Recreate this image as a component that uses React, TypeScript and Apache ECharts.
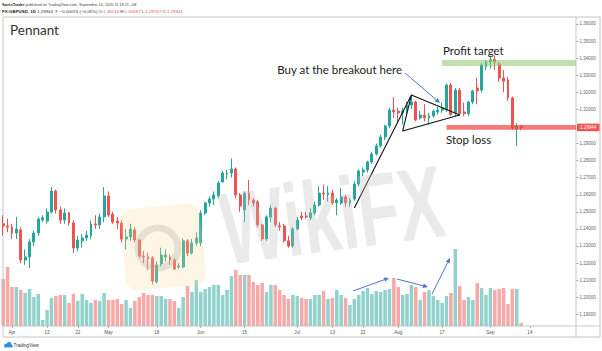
import React, { useEffect, useRef } from 'react';
import * as echarts from 'echarts';

// ---------- categories (trading days) ----------
function weekdays(start: string, n: number): string[] {
  const out: string[] = [];
  const d = new Date(start + 'T00:00:00Z');
  while (out.length < n) {
    const wd = d.getUTCDay();
    if (wd !== 0 && wd !== 6) out.push(d.toISOString().slice(0, 10));
    d.setUTCDate(d.getUTCDate() + 1);
  }
  return out;
}
const dates: string[] = weekdays('2020-03-30', 131);

const tickLabels: [string, string][] = [
  ['2020-04-01', 'Apr'], ['2020-04-13', '13'], ['2020-04-22', '22'], ['2020-05-01', 'May'],
  ['2020-05-18', '18'], ['2020-06-01', 'Jun'], ['2020-06-15', '15'], ['2020-07-01', 'Jul'],
  ['2020-07-13', '13'], ['2020-07-22', '22'], ['2020-08-03', 'Aug'], ['2020-08-17', '17'],
  ['2020-09-01', 'Sep'], ['2020-09-14', '14'],
];

const priceTicks: number[] = [
  1.19, 1.2, 1.21, 1.22, 1.23, 1.24, 1.25, 1.26, 1.27, 1.28, 1.29,
  1.31, 1.32, 1.33, 1.34, 1.35, 1.36,
];

// [open, close, low, high]
const candles: number[][] = [
  [1.2430, 1.2417, 1.2360, 1.2480], [1.2417, 1.2411, 1.2380, 1.2460], [1.2411, 1.2376, 1.2340, 1.2430],
  [1.2376, 1.2400, 1.2340, 1.2470], [1.2394, 1.2218, 1.2200, 1.2410], [1.2218, 1.2236, 1.2190, 1.2280],
  [1.2236, 1.2324, 1.2170, 1.2340], [1.2324, 1.2376, 1.2300, 1.2390], [1.2376, 1.2458, 1.2360, 1.2470],
  [1.2452, 1.2466, 1.2440, 1.2480], [1.2446, 1.2499, 1.2430, 1.2520], [1.2499, 1.2622, 1.2490, 1.2645],
  [1.2622, 1.2511, 1.2490, 1.2630], [1.2511, 1.2452, 1.2430, 1.2530], [1.2452, 1.2493, 1.2430, 1.2520],
  [1.2493, 1.2435, 1.2420, 1.2500], [1.2435, 1.2288, 1.2260, 1.2450], [1.2288, 1.2335, 1.2270, 1.2360],
  [1.2330, 1.2347, 1.2290, 1.2370], [1.2347, 1.2364, 1.2330, 1.2390], [1.2359, 1.2429, 1.2340, 1.2450],
  [1.2429, 1.2423, 1.2400, 1.2480], [1.2423, 1.2470, 1.2400, 1.2490], [1.2470, 1.2593, 1.2440, 1.2645],
  [1.2593, 1.2481, 1.2470, 1.2620], [1.2487, 1.2440, 1.2430, 1.2500], [1.2446, 1.2435, 1.2400, 1.2470],
  [1.2435, 1.2341, 1.2320, 1.2450], [1.2341, 1.2353, 1.2280, 1.2400], [1.2353, 1.2400, 1.2330, 1.2430],
  [1.2394, 1.2335, 1.2320, 1.2410], [1.2335, 1.2241, 1.2230, 1.2340], [1.2241, 1.2236, 1.2200, 1.2270],
  [1.2236, 1.2224, 1.2160, 1.2260], [1.2230, 1.2095, 1.2075, 1.2240], [1.2090, 1.2189, 1.2080, 1.2210],
  [1.2195, 1.2247, 1.2180, 1.2290], [1.2236, 1.2247, 1.2210, 1.2280], [1.2236, 1.2218, 1.2190, 1.2250],
  [1.2218, 1.2165, 1.2160, 1.2230], [1.2177, 1.2183, 1.2165, 1.2200], [1.2177, 1.2330, 1.2170, 1.2345],
  [1.2330, 1.2259, 1.2240, 1.2340], [1.2259, 1.2318, 1.2250, 1.2340], [1.2318, 1.2347, 1.2300, 1.2380],
  [1.2318, 1.2493, 1.2300, 1.2510], [1.2493, 1.2552, 1.2480, 1.2560], [1.2552, 1.2575, 1.2530, 1.2590],
  [1.2575, 1.2599, 1.2540, 1.2620], [1.2593, 1.2669, 1.2580, 1.2680], [1.2675, 1.2727, 1.2670, 1.2740],
  [1.2721, 1.2727, 1.2690, 1.2745], [1.2727, 1.2751, 1.2700, 1.2813], [1.2751, 1.2599, 1.2580, 1.2760],
  [1.2599, 1.2534, 1.2500, 1.2610], [1.2511, 1.2610, 1.2440, 1.2620], [1.2610, 1.2569, 1.2540, 1.2686],
  [1.2569, 1.2552, 1.2530, 1.2580], [1.2558, 1.2423, 1.2410, 1.2570], [1.2423, 1.2341, 1.2330, 1.2430],
  [1.2341, 1.2470, 1.2330, 1.2480], [1.2470, 1.2522, 1.2440, 1.2540], [1.2522, 1.2423, 1.2410, 1.2530],
  [1.2417, 1.2411, 1.2390, 1.2440], [1.2417, 1.2330, 1.2320, 1.2430], [1.2330, 1.2300, 1.2290, 1.2360],
  [1.2300, 1.2400, 1.2290, 1.2410], [1.2400, 1.2452, 1.2390, 1.2470], [1.2475, 1.2464, 1.2450, 1.2500],
  [1.2476, 1.2470, 1.2460, 1.2500], [1.2464, 1.2493, 1.2450, 1.2520], [1.2493, 1.2540, 1.2480, 1.2560],
  [1.2540, 1.2610, 1.2530, 1.2650], [1.2610, 1.2604, 1.2570, 1.2660], [1.2600, 1.2610, 1.2560, 1.2650],
  [1.2610, 1.2552, 1.2540, 1.2630], [1.2552, 1.2569, 1.2480, 1.2580], [1.2552, 1.2587, 1.2540, 1.2640],
  [1.2587, 1.2552, 1.2530, 1.2600], [1.2552, 1.2569, 1.2530, 1.2580], [1.2575, 1.2663, 1.2565, 1.2680],
  [1.2663, 1.2739, 1.2650, 1.2750], [1.2733, 1.2745, 1.2710, 1.2760], [1.2745, 1.2792, 1.2730, 1.2800],
  [1.2792, 1.2839, 1.2780, 1.2850], [1.2839, 1.2886, 1.2830, 1.2900], [1.2886, 1.2938, 1.2875, 1.2950],
  [1.2938, 1.3003, 1.2920, 1.3010], [1.3003, 1.3096, 1.2990, 1.3110], [1.3096, 1.3085, 1.3050, 1.3170],
  [1.3090, 1.3079, 1.3020, 1.3110], [1.3079, 1.3090, 1.3010, 1.3110], [1.3085, 1.3126, 1.3070, 1.3145],
  [1.3126, 1.3143, 1.3100, 1.3185], [1.3143, 1.3038, 1.3030, 1.3150], [1.3050, 1.3067, 1.3040, 1.3090],
  [1.3067, 1.3050, 1.3030, 1.3130], [1.3050, 1.3062, 1.3010, 1.3080], [1.3062, 1.3090, 1.3050, 1.3100],
  [1.3085, 1.3096, 1.3070, 1.3115], [1.3096, 1.3110, 1.3080, 1.3140], [1.3096, 1.3243, 1.3085, 1.3250],
  [1.3243, 1.3070, 1.3060, 1.3255], [1.3080, 1.3213, 1.3060, 1.3225], [1.3213, 1.3075, 1.3060, 1.3225],
  [1.3085, 1.3075, 1.3060, 1.3140], [1.3075, 1.3143, 1.3060, 1.3150], [1.3143, 1.3208, 1.3130, 1.3215],
  [1.3225, 1.3208, 1.3130, 1.3285], [1.3213, 1.3360, 1.3200, 1.3370], [1.3350, 1.3378, 1.3330, 1.3390],
  [1.3378, 1.3390, 1.3340, 1.3412], [1.3392, 1.3378, 1.3330, 1.3415], [1.3365, 1.3284, 1.3260, 1.3375],
  [1.3284, 1.3265, 1.3200, 1.3330], [1.3272, 1.3167, 1.3150, 1.3290], [1.3167, 1.2991, 1.2980, 1.3175],
  [1.2985, 1.3002, 1.2886, 1.3020], [1.30018, 1.29944, 1.29767, 1.30087],
];

// volume (thousands)
const volumes: number[] = [
  47, 59, 39, 39, 36, 33, 37, 29, 32, 6, 16, 28, 30, 31, 31, 23, 32, 25, 32, 26,
  23, 26, 25, 33, 26, 26, 27, 22, 26, 18, 25, 29, 33, 31, 31, 30, 30, 27, 27, 25,
  18, 29, 40, 34, 46, 34, 37, 39, 41, 41, 31, 36, 50, 56, 51, 51, 51, 44, 41, 43,
  34, 41, 41, 36, 31, 27, 31, 30, 28, 27, 27, 31, 31, 35, 27, 28, 36, 31, 28, 21,
  27, 31, 35, 38, 32, 35, 34, 36, 37, 48, 39, 31, 32, 41, 39, 26, 34, 36, 30, 26,
  23, 30, 33, 77, 40, 26, 29, 26, 43, 38, 31, 38, 36, 37, 38, 22, 37, 37, 3,
];

const lastPrice = 1.29944;
const profitBand: [number, number] = [1.3389, 1.3354];
const stopBand: [number, number] = [1.3008, 1.2981];
// pennant drawing: pole + triangle, in [date, price]
const pennantPoints: [string, number][] = [
  [dates[80], 1.2522], [dates[93], 1.3184], [dates[104], 1.3067], [dates[91], 1.2973], [dates[93], 1.3184],
];

const UP = '#26a69a';
const DOWN = '#ef5350';
const UP_VOL = '#92d2cc';
const DOWN_VOL = '#f7a9a7';
const SMALL_FONT = 'Liberation Sans, Arial, sans-serif';
const NOTE_FONT = 'Lato, "Open Sans", sans-serif';

function arrow(x1: number, y1: number, x2: number, y2: number, color: string) {
  const ang = Math.atan2(y2 - y1, x2 - x1);
  const L = 5, W = 2.3;
  const bx = x2 - L * Math.cos(ang), by = y2 - L * Math.sin(ang);
  return [
    { type: 'line', z: 30, shape: { x1, y1, x2: bx, y2: by }, style: { stroke: color, lineWidth: 1 } },
    {
      type: 'polygon', z: 30,
      shape: { points: [[x2, y2], [bx - W * Math.sin(ang), by + W * Math.cos(ang)], [bx + W * Math.sin(ang), by - W * Math.cos(ang)]] },
      style: { fill: color },
    },
  ];
}

export default function App() {
  const ref = useRef<HTMLDivElement>(null);
  useEffect(() => {
    if (!ref.current) return;
    const chart = echarts.init(ref.current, undefined, { renderer: 'svg' });
    const labelMap = new Map(tickLabels);

    const option: any = {
      animation: false,
      backgroundColor: '#ffffff',
      grid: [
        { left: 1, width: 575, top: 6.92, height: 324.45 },
        { left: 1, width: 575, top: 226, height: 100 },
      ],
      xAxis: [
        { type: 'category', gridIndex: 0, data: dates, boundaryGap: true, show: false },
        {
          type: 'category', gridIndex: 1, data: dates, boundaryGap: true,
          axisLine: { show: false },
          axisTick: { show: true, alignWithLabel: true, length: 2, lineStyle: { color: '#9a9a9a', width: 0.8 } },
          axisLabel: {
            interval: (_i: number, v: string) => labelMap.has(v),
            formatter: (v: string) => labelMap.get(v) ?? '',
            fontSize: 4.6, color: '#555', margin: 3.5, fontFamily: SMALL_FONT,
          },
          splitLine: { show: false },
        },
      ],
      yAxis: [
        {
          type: 'value', gridIndex: 0, position: 'right', min: 1.18, max: 1.37,
          axisLine: { show: false },
          axisTick: { show: true, customValues: priceTicks, length: 2.5, lineStyle: { color: '#9a9a9a', width: 0.8 } },
          axisLabel: {
            customValues: priceTicks, fontSize: 4.5, color: '#666', margin: 3.5, fontFamily: SMALL_FONT,
            formatter: (v: number) => v.toFixed(5),
          },
          splitLine: { show: false },
        },
        { type: 'value', gridIndex: 1, min: 0, max: 100, show: false },
      ],
      series: [
        {
          type: 'bar', xAxisIndex: 1, yAxisIndex: 1, barWidth: 3.5, z: 1,
          data: volumes.map((v, i) => ({
            value: v,
            itemStyle: { color: candles[i][1] >= candles[i][0] ? UP_VOL : DOWN_VOL },
          })),
        },
        {
          type: 'candlestick', xAxisIndex: 0, yAxisIndex: 0, barWidth: 2.4, z: 3,
          data: candles,
          itemStyle: { color: UP, color0: DOWN, borderColor: UP, borderColor0: DOWN, borderWidth: 1 },
        },
        {
          type: 'line', xAxisIndex: 0, yAxisIndex: 0, z: 6, symbol: 'none',
          data: pennantPoints,
          lineStyle: { color: '#111', width: 1.1 },
        },
      ],
    };
    chart.setOption(option);

    const px = (i: number, v: number) => chart.convertToPixel({ gridIndex: 0 }, [i, v]) as number[];
    const right = 576;
    const gX = px(100, 1.3)[0];
    const sX = px(101, 1.3)[0];
    const gY1 = px(0, profitBand[0])[1], gY2 = px(0, profitBand[1])[1];
    const sY1 = px(0, stopBand[0])[1], sY2 = px(0, stopBand[1])[1];
    const lpY = px(0, lastPrice)[1];
    const blue = '#4a76c9';

    const graphics: any[] = [
      // header
      {
        type: 'text', z: 40, style: {
          x: 2, y: 4.5, textVerticalAlign: 'middle',
          text: '{b|SwissTrader} published on TradingView.com, September 10, 2020 11:18:21 +08',
          fontSize: 3.8, fontFamily: SMALL_FONT, fill: '#444',
          rich: { b: { fontWeight: 'bold', fontSize: 3.8, fontFamily: SMALL_FONT, fill: '#222' } },
        },
      },
      {
        type: 'text', z: 40, style: {
          x: 2, y: 11, textVerticalAlign: 'middle',
          text: '{b|FX:GBPUSD, 1D} 1.29944 {r|\u25BC} \u22120.00074 (\u22120.06%) O:{r|1.30018} H:{r|1.30087} L:{r|1.29767} C:{r|1.29944}',
          fontSize: 4.4, fontFamily: SMALL_FONT, fill: '#333',
          rich: {
            b: { fontWeight: 'bold', fontSize: 4.4, fontFamily: SMALL_FONT, fill: '#222' },
            r: { fontSize: 4.4, fontFamily: SMALL_FONT, fill: DOWN },
          },
        },
      },
      // frame
      { type: 'rect', z: 2, shape: { x: 3, y: 17, width: 597, height: 320 }, style: { fill: 'none', stroke: '#b8b8b8', lineWidth: 0.8 } },
      { type: 'line', z: 2, shape: { x1: right, y1: 17, x2: right, y2: 337 }, style: { stroke: '#b8b8b8', lineWidth: 0.8 } },
      { type: 'line', z: 2, shape: { x1: 3, y1: 326, x2: 600, y2: 326 }, style: { stroke: '#b8b8b8', lineWidth: 0.8 } },
      // title
      { type: 'text', z: 40, style: { x: 10, y: 30, text: 'Pennant', fontSize: 13.5, fontFamily: NOTE_FONT, fill: '#333', textVerticalAlign: 'middle' } },
      // watermark
      {
        type: 'rect', z: 20, x: 163, y: 247, rotation: 0.1,
        shape: { x: -40, y: -41, width: 80, height: 82, r: 12 },
        style: { fill: 'rgba(250,222,150,0.26)' },
      },
      {
        type: 'circle', z: 20, shape: { cx: 158, cy: 248, r: 20 },
        style: { fill: 'none', stroke: 'rgba(170,170,170,0.28)', lineWidth: 7 },
      },
      {
        type: 'text', z: 21, x: 332, y: 215, rotation: 0.13, scaleX: 0.66,
        style: {
          x: 0, y: 0, text: 'WikiFX', fontSize: 102, fontWeight: 'bold', fontFamily: 'Liberation Sans, Arial, sans-serif',
          fill: 'rgba(190,190,190,0.33)', textAlign: 'center', textVerticalAlign: 'middle',
        },
      },
      // bands
      { type: 'rect', z: 25, shape: { x: gX, y: gY1, width: right - gX, height: gY2 - gY1 }, style: { fill: 'rgba(140,200,110,0.55)' } },
      { type: 'rect', z: 25, shape: { x: sX, y: sY1, width: right - sX, height: sY2 - sY1 }, style: { fill: 'rgba(238,70,70,0.72)' } },
      // last price label
      { type: 'rect', z: 41, shape: { x: 577, y: lpY - 3.8, width: 22.5, height: 7.6 }, style: { fill: '#ef5350' } },
      { type: 'text', z: 42, style: { x: 588.2, y: lpY, text: '1.29944', fontSize: 4.5, fontFamily: SMALL_FONT, fill: '#fff', textAlign: 'center', textVerticalAlign: 'middle' } },
      // notes
      { type: 'text', z: 40, style: { x: 402, y: 69, text: 'Buy at the breakout here', fontSize: 11.5, fontFamily: NOTE_FONT, fill: '#222', textAlign: 'right', textVerticalAlign: 'middle' } },
      { type: 'text', z: 40, style: { x: 443, y: 50, text: 'Profit target', fontSize: 11.5, fontFamily: NOTE_FONT, fill: '#222', textVerticalAlign: 'middle' } },
      { type: 'text', z: 40, style: { x: 446, y: 139, text: 'Stop loss', fontSize: 11.5, fontFamily: NOTE_FONT, fill: '#222', textVerticalAlign: 'middle' } },
      ...arrow(405, 73, 440, 103, blue),
      ...arrow(353, 291, 389, 278, blue),
      ...arrow(397, 279, 428, 287, blue),
      ...arrow(432, 294, 450, 258, blue),
      // TradingView logo
      { type: 'circle', z: 40, shape: { cx: 6, cy: 345.5, r: 1.8 }, style: { fill: '#2f8fe0' } },
      { type: 'circle', z: 40, shape: { cx: 9, cy: 344.5, r: 2.6 }, style: { fill: '#2f8fe0' } },
      { type: 'rect', z: 40, shape: { x: 4.5, y: 345, width: 8, height: 2.4 }, style: { fill: '#2f8fe0' } },
      { type: 'text', z: 40, style: { x: 13.5, y: 345.5, text: 'TradingView', fontSize: 4.6, fontFamily: SMALL_FONT, fill: '#333', textVerticalAlign: 'middle' } },
    ];
    chart.setOption({ graphic: { elements: graphics } });

    return () => chart.dispose();
  }, []);

  return (
    <div
      ref={ref}
      style={{ position: 'fixed', left: 0, top: 0, width: 602, height: 351, background: '#fff' }}
    />
  );
}
